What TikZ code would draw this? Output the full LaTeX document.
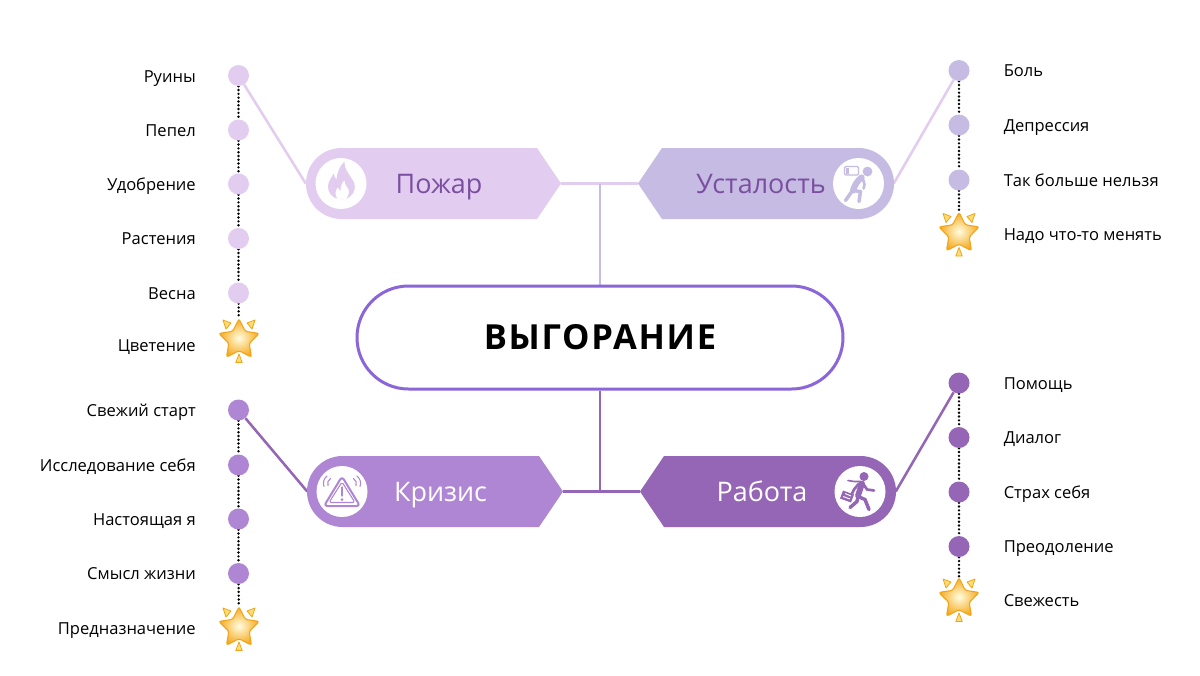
\documentclass[tikz,border=0pt]{standalone}
\usepackage{fontspec}
\setmainfont{Open Sans}
\usetikzlibrary{shapes.geometric,backgrounds}
\definecolor{cFire}{HTML}{E2CCF0}
\definecolor{cTired}{HTML}{C5BBE3}
\definecolor{cCrisis}{HTML}{AF86D3}
\definecolor{cWork}{HTML}{9566B5}
\definecolor{cRing}{HTML}{8A66D8}
\definecolor{cInk}{HTML}{7B4FA0}
\definecolor{cStarEdge}{HTML}{EFA51A}
\definecolor{cStarIn}{HTML}{FFFDE0}
\definecolor{cStarOut}{HTML}{F6A81C}
\definecolor{cSpark}{HTML}{FFDD70}
\tikzset{
  dotnode/.style={circle,minimum size=15.75pt,inner sep=0pt,fill=#1},
  starnode/.style={star,star points=5,star point ratio=2.0,minimum size=32pt,inner sep=0pt,
     rounded corners=1.8pt,draw=cStarEdge,line width=.8pt,inner color=cStarIn,outer color=cStarOut},
  spark/.style={fill=cSpark,draw=cStarEdge,line width=.6pt,line join=round},
  lab/.style={font=\fontsize{12.4}{14}\selectfont,text=black,inner sep=0pt},
  pilltext/.style={font=\fontsize{20.2}{24}\selectfont,inner sep=0pt,anchor=base},
  hole/.style={circle,minimum size=38.25pt,inner sep=0pt,fill=white},
  pillbox/.style={minimum width=191.25pt,minimum height=53.25pt,inner sep=0pt},
  vine/.style={line width=1.9pt},
  beads/.style={line width=2pt,line cap=round,dash pattern=on 0pt off 2.85pt,black},
  ico/.style={line width=2.6pt,line cap=round,line join=round},
  titlebox/.style={rounded corners=38.6pt,draw=cRing,line width=2.25pt,fill=white,
     minimum width=364.5pt,minimum height=77.25pt,inner sep=0pt,
     font=\fontsize{25.9}{30}\bfseries\selectfont}
}
\newcommand{\sparks}[2]{%
  \begin{scope}[shift={(#1,#2)}]
    \path[spark] (-16,-20) -- (-8,-17) -- (-13,-11) -- cycle;
    \path[spark] (16,-20) -- (8,-17) -- (13,-11) -- cycle;
    \path[spark] (0,14) -- (3.2,22.5) -- (-3.2,22.5) -- cycle;
  \end{scope}}
\begin{document}
\begin{tikzpicture}[x=0.75pt,y=-0.75pt]
\useasboundingbox (0,0) rectangle (1200,675);

% pills
\fill[cFire] (561,183.5) -- (537,219) -- (341.5,219)
  .. controls (321.9,219) and (306,203.1) .. (306,183.5)
  .. controls (306,163.9) and (321.9,148) .. (341.5,148) -- (537,148) -- cycle;
\fill[cTired] (638,183.5) -- (662,219) -- (858.5,219)
  .. controls (878.1,219) and (894,203.1) .. (894,183.5)
  .. controls (894,163.9) and (878.1,148) .. (858.5,148) -- (662,148) -- cycle;
\fill[cCrisis] (563,491.5) -- (539,527) -- (342.5,527)
  .. controls (322.9,527) and (307,511.1) .. (307,491.5)
  .. controls (307,471.9) and (322.9,456) .. (342.5,456) -- (539,456) -- cycle;
\fill[cWork] (640,491.5) -- (664,527) -- (860.5,527)
  .. controls (880.1,527) and (896,511.1) .. (896,491.5)
  .. controls (896,471.9) and (880.1,456) .. (860.5,456) -- (664,456) -- cycle;

\node[pillbox] (fire) at (433.5,183.5) {};
\node[pillbox] (tired) at (766,183.5) {};
\node[pillbox] (crisis) at (435,491.5) {};
\node[pillbox] (work) at (768,491.5) {};

\node[pilltext,text=cInk] (tfire) at (439,193) {Пожар};
\node[pilltext,text=cInk] (ttired) at (761,193) {Усталость};
\node[pilltext,text=white] (tcrisis) at (440.5,501) {Кризис};
\node[pilltext,text=white] (twork) at (762,501) {Работа};

% icon discs
\node[hole] (ifire) at (341,183.5) {};
\node[hole] (itired) at (858.5,183.5) {};
\node[hole] (icrisis) at (342,491.5) {};
\node[hole] (iwork) at (860,491.5) {};

% flame
\begin{scope}[shift={(341,183.5)}]
  \fill[cFire] (-1,15.5) .. controls (-9,15) and (-13.5,9) .. (-13,2)
    .. controls (-12.5,-3) and (-9,-6) .. (-7.5,-10)
    .. controls (-6.5,-7) and (-6,-5) .. (-4.5,-4)
    .. controls (-4,-11) and (-1,-18) .. (3.5,-22)
    .. controls (3,-15) and (7,-11) .. (10,-6)
    .. controls (13,-2) and (14.5,2) .. (13.5,6)
    .. controls (12.5,11) and (8,15) .. (3,15.5) -- cycle;
  \fill[white] (-3.5,15.5) .. controls (-6.5,11) and (-6,7) .. (-3,4)
    .. controls (-2,6) and (-1.5,7) .. (-.5,7.5)
    .. controls (-.5,3) and (1,-1) .. (3.5,-3)
    .. controls (3.5,1) and (6,3) .. (7.5,6)
    .. controls (8.5,9) and (7.5,13) .. (4.5,15.5) -- cycle;
\end{scope}

% tired man
\begin{scope}[shift={(858.5,183.5)},cTired]
  \fill (9,-12) circle (4.9);
  \draw[line width=.9pt,rounded corners=1pt,line join=round] (-14,-17) rectangle (0,-8.5);
  \fill (-12.5,-15.5) rectangle (-9.5,-10);
  \draw[ico,line width=4.6pt] (3,-6) .. controls (-1,-3) and (-4,2) .. (-5.5,7);
  \draw[ico] (-6,7) -- (-13,17);
  \draw[ico] (-6,7) -- (2,8) -- (0.5,18);
  \draw[ico,line width=2pt] (4,-6) -- (6,1) -- (5,5);
\end{scope}

% warning
\begin{scope}[shift={(342,491.5)},cCrisis]
  \draw[line width=1.5pt,line join=round,rounded corners=2.4pt] (0,-15) -- (18,14.5) -- (-18,14.5) -- cycle;
  \draw[line width=.8pt,line join=round,rounded corners=1.4pt] (0,-9.5) -- (13,11) -- (-13,11) -- cycle;
  \draw[line width=2.1pt,line cap=round] (0,-4) -- (0,4);
  \fill (0,8.2) circle (1.5);
  \draw[line width=.8pt,line cap=round] (-14,-6) .. controls (-15,-9) and (-14,-11) .. (-11.5,-13);
  \draw[line width=.8pt,line cap=round] (-18,-5) .. controls (-19.5,-9) and (-18,-13) .. (-15,-15.5);
  \draw[line width=.8pt,line cap=round] (14,-6) .. controls (15,-9) and (14,-11) .. (11.5,-13);
  \draw[line width=.8pt,line cap=round] (18,-5) .. controls (19.5,-9) and (18,-13) .. (15,-15.5);
\end{scope}

% walking worker
\begin{scope}[shift={(860,491.5)},cWork]
  \fill (4,-15) circle (4.5);
  \draw[ico,line width=4.4pt] (2,-8) -- (-2,4);
  \draw[ico] (-2,5) -- (-3,10) -- (-10,16);
  \draw[ico] (-2,5) -- (5,8) -- (9,18);
  \draw[ico,line width=2pt] (3,-8) -- (7,-2) -- (14,-1);
  \draw[ico,line width=2pt] (-1,-8) -- (-6,-2) -- (-8,2);
  \draw[line width=1.2pt,line cap=round] (1,-10) -- (-6,-10) -- (-12,-11);
  \fill[line join=round] (-17,-1) -- (-6,3) -- (-9,11) -- (-20,7) -- cycle;
  \draw[white,line width=.7pt] (-15,2) -- (-9,4.5) (-17,5) -- (-10,7.5);
\end{scope}

% central node
\node[titlebox] (title) at (600,337.5) {\addfontfeature{LetterSpace=5}ВЫГОРАНИЕ};

% bead nodes
\foreach \n/\y in {1/75.5,2/130,3/184,4/238.5,5/293}
  \node[dotnode=cFire] (a\n) at (238.5,\y) {};
\foreach \n/\y in {1/70.5,2/125,3/180}
  \node[dotnode=cTired] (b\n) at (959,\y) {};
\foreach \n/\y in {1/410,2/465,3/519,4/573.5}
  \node[dotnode=cCrisis] (c\n) at (238.5,\y) {};
\foreach \n/\y in {1/383,2/437.5,3/492,4/546.5}
  \node[dotnode=cWork] (d\n) at (959,\y) {};

% stars
\node[starnode] (sa) at (239,340) {}; \sparks{239}{340}
\node[starnode] (sb) at (959,233.5) {}; \sparks{959}{233.5}
\node[starnode] (sc) at (239,628) {}; \sparks{239}{628}
\node[starnode] (sd) at (959,599) {}; \sparks{959}{599}

% labels
\foreach \n/\y/\t in {1/76/Руины,2/130/Пепел,3/184/Удобрение,4/238.5/Растения,5/293/Весна,6/345/Цветение}
  \node[lab,anchor=base east] (la\n) at (196,\y+6) {\t};
\foreach \n/\y/\t in {1/410/Свежий старт,2/465/Исследование себя,3/519/Настоящая я,4/573/Смысл жизни,5/628/Предназначение}
  \node[lab,anchor=base east] (lc\n) at (196,\y+6) {\t};
\foreach \n/\y/\t in {1/70.5/Боль,2/125/Депрессия,3/180/Так больше нельзя,4/234/Надо что-то менять}
  \node[lab,anchor=base west] (lb\n) at (1003.5,\y+6) {\t};
\foreach \n/\y/\t in {1/383/Помощь,2/437.5/Диалог,3/492/Страх себя,4/546.5/Преодоление,5/600/Свежесть}
  \node[lab,anchor=base west] (ld\n) at (1003.5,\y+6) {\t};

\coordinate (jtop) at (600,183.5);
\coordinate (jbot) at (600,491.5);

\begin{scope}[on background layer]
  \fill[white] (0,0) rectangle (1200,675);
  \draw[vine,cFire] (a1) -- (fire.west);
  \draw[vine,cFire] (b1) -- (tired.east);
  \draw[vine,cWork] (c1) -- (crisis.west);
  \draw[vine,cWork] (d1) -- (work.east);
  \draw[vine,cFire] (fire.east) -- (tired.west);
  \draw[vine,cTired] (jtop) -- (title.north);
  \draw[vine,cWork] (crisis.east) -- (work.west);
  \draw[vine,cWork] (title.south) -- (jbot);
  \draw[beads] (a1) -- (a2);
  \draw[beads] (a2) -- (a3);
  \draw[beads] (a3) -- (a4);
  \draw[beads] (a4) -- (a5);
  \draw[beads] (a5) -- (sa);
  \draw[beads] (b1) -- (b2);
  \draw[beads] (b2) -- (b3);
  \draw[beads] (b3) -- (sb);
  \draw[beads] (c1) -- (c2);
  \draw[beads] (c2) -- (c3);
  \draw[beads] (c3) -- (c4);
  \draw[beads] (c4) -- (sc);
  \draw[beads] (d1) -- (d2);
  \draw[beads] (d2) -- (d3);
  \draw[beads] (d3) -- (d4);
  \draw[beads] (d4) -- (sd);
\end{scope}
\end{tikzpicture}
\end{document}
